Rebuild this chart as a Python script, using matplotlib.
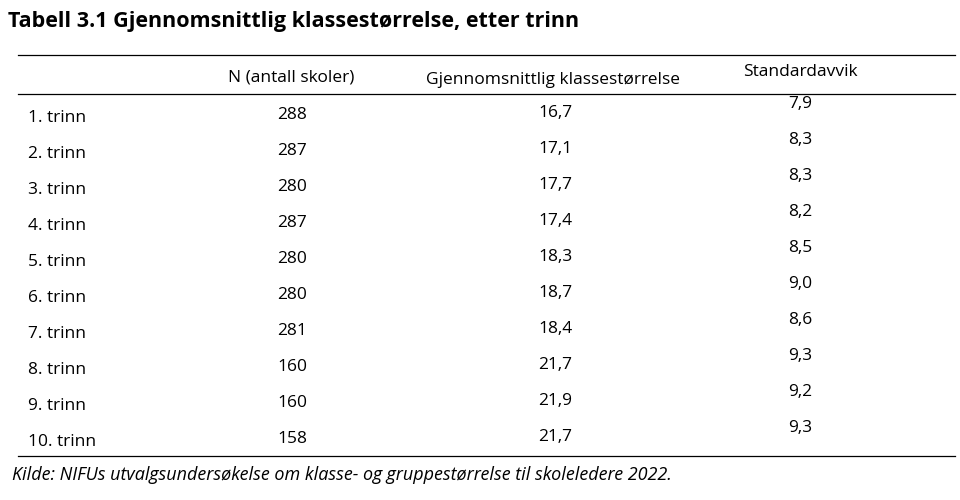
import matplotlib
matplotlib.use("Agg")
import matplotlib.pyplot as plt

title = "Tabell 3.1 Gjennomsnittlig klassestørrelse, etter trinn"
headers = ["N (antall skoler)", "Gjennomsnittlig klassestørrelse", "Standardavvik"]
rows = ["1. trinn", "2. trinn", "3. trinn", "4. trinn", "5. trinn",
        "6. trinn", "7. trinn", "8. trinn", "9. trinn", "10. trinn"]
n_schools = ["288", "287", "280", "287", "280", "280", "281", "160", "160", "158"]
avg_size = ["16,7", "17,1", "17,7", "17,4", "18,3", "18,7", "18,4", "21,7", "21,9", "21,7"]
std_dev = ["7,9", "8,3", "8,3", "8,2", "8,5", "9,0", "8,6", "9,3", "9,2", "9,3"]
source = "Kilde: NIFUs utvalgsundersøkelse om klasse- og gruppestørrelse til skoleledere 2022."

W, H = 960, 500
fig = plt.figure(figsize=(9.6, 5), dpi=100)
ax = fig.add_axes([0, 0, 1, 1])
ax.set_xlim(0, W); ax.set_ylim(H, 0); ax.axis("off")
font = "Open Sans"
fs = 12.5

ax.text(8, 22, title, fontsize=15.5, fontweight="bold", family=font, va="center", ha="left")
for y in (55, 94, 456):
    ax.plot([18, 955], [y, y], color="black", lw=0.9)

ax.text(291, 78, headers[0], fontsize=fs, family=font, ha="center", va="center")
ax.text(553, 80, headers[1], fontsize=fs, family=font, ha="center", va="center")
ax.text(800, 72, headers[2], fontsize=fs, family=font, ha="center", va="center")

for i, r in enumerate(rows):
    y = 118 + i * 36
    ax.text(28, y, r, fontsize=fs, family=font, ha="left", va="center")
    ax.text(292, y - 3, n_schools[i], fontsize=fs, family=font, ha="center", va="center")
    ax.text(555, y - 5, avg_size[i], fontsize=fs, family=font, ha="center", va="center")
    ax.text(800, y - 14, std_dev[i], fontsize=fs, family=font, ha="center", va="center")

ax.text(12, 475, source, fontsize=13, family=font, style="italic", ha="left", va="center")
fig.savefig("out.png", dpi=100)
